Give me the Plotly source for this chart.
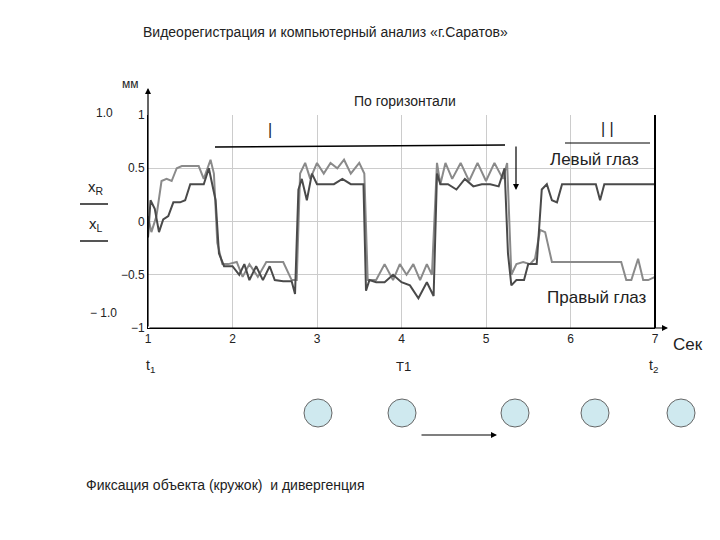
import plotly.graph_objects as go

# left eye (dark) and right eye (light) traces
t_left = [1.0, 1.03, 1.08, 1.13, 1.18, 1.24, 1.3, 1.38, 1.44, 1.5, 1.6, 1.66, 1.72, 1.76, 1.8, 1.84,
          1.9, 2.0, 2.08, 2.14, 2.2, 2.28, 2.36, 2.44, 2.5, 2.6, 2.7, 2.74, 2.78, 2.82, 2.88, 2.94,
          3.0, 3.1, 3.2, 3.3, 3.4, 3.5, 3.55, 3.58, 3.62, 3.7, 3.8, 3.9, 4.0, 4.1, 4.2, 4.3, 4.38,
          4.42, 4.46, 4.55, 4.65, 4.75, 4.85, 4.95, 5.05, 5.15, 5.22, 5.26, 5.3, 5.36, 5.45,
          5.5, 5.6, 5.66, 5.72, 5.78, 5.84, 5.9, 6.0, 6.2, 6.3, 6.35, 6.4, 6.5, 6.7, 7.0]
v_left = [-0.15, 0.2, 0.12, -0.1, 0.02, 0.05, 0.18, 0.18, 0.2, 0.35, 0.35, 0.35, 0.5, 0.35, 0.2, -0.3,
          -0.42, -0.42, -0.5, -0.4, -0.55, -0.42, -0.55, -0.42, -0.55, -0.56, -0.56, -0.68, 0.3, 0.4,
          0.2, 0.45, 0.35, 0.35, 0.35, 0.4, 0.35, 0.35, 0.35, -0.65, -0.55, -0.57, -0.57, -0.5, -0.57,
          -0.6, -0.72, -0.57, -0.7, 0.45, 0.35, 0.35, 0.3, 0.4, 0.33, 0.35, 0.35, 0.33, 0.5, -0.3,
          -0.6, -0.55, -0.55, -0.4, -0.4, 0.3, 0.35, 0.2, 0.18, 0.35, 0.35, 0.35, 0.35, 0.2, 0.35,
          0.35, 0.35, 0.35]
t_right = [1.0, 1.04, 1.1, 1.16, 1.22, 1.28, 1.34, 1.4, 1.46, 1.52, 1.6, 1.66, 1.7, 1.74, 1.78, 1.82,
           1.88, 1.95, 2.05, 2.12, 2.2, 2.3, 2.4, 2.5, 2.6, 2.7, 2.76, 2.8, 2.86, 2.92, 3.0, 3.08,
           3.16, 3.24, 3.32, 3.4, 3.5, 3.56, 3.6, 3.7, 3.8, 3.9, 3.98, 4.06, 4.14, 4.22, 4.3, 4.36,
           4.42, 4.46, 4.52, 4.6, 4.7, 4.8, 4.9, 5.0, 5.1, 5.2, 5.25, 5.3, 5.36, 5.44, 5.52, 5.58,
           5.64, 5.7, 5.78, 5.86, 6.0, 6.3, 6.6, 6.66, 6.72, 6.8, 6.86, 6.92, 7.0]
v_right = [0.05, -0.1, 0.05, 0.38, 0.4, 0.38, 0.5, 0.52, 0.52, 0.52, 0.52, 0.4, 0.5, 0.58, 0.45,
           -0.2, -0.4, -0.4, -0.38, -0.52, -0.4, -0.52, -0.38, -0.38, -0.38, -0.55, -0.55, 0.45,
           0.55, 0.4, 0.55, 0.45, 0.55, 0.5, 0.58, 0.45, 0.55, 0.45, -0.55, -0.55, -0.4, -0.55,
           -0.4, -0.5, -0.4, -0.55, -0.4, -0.5, 0.55, 0.35, 0.55, 0.4, 0.55, 0.38, 0.55, 0.38,
           0.55, 0.4, 0.55, -0.5, -0.4, -0.38, -0.4, -0.35, -0.08, -0.1, -0.38, -0.38, -0.38,
           -0.38, -0.38, -0.55, -0.55, -0.35, -0.55, -0.55, -0.52]

x_ticks = [1, 2, 3, 4, 5, 6, 7]
y_ticks = [-1, -0.5, 0, 0.5, 1]
y_tick_text = ["\u22121", "\u22120.5", "0", "0.5", "1"]
circle_x = [318, 402, 515, 595, 681]  # pixel centres of the fixation circles

fig = go.Figure()
fig.add_trace(go.Scatter(x=t_right, y=v_right, mode="lines", line=dict(color="#8a8a8a", width=2)))
fig.add_trace(go.Scatter(x=t_left, y=v_left, mode="lines", line=dict(color="#4a4a4a", width=2)))

W, H = 720, 540
OFF = 8  # page body margin
px = lambda x: (x - OFF) / W
py = lambda y: 1 - (y - OFF) / H

fig.update_layout(
    width=W, height=H, margin=dict(l=0, r=0, t=0, b=0, autoexpand=False), showlegend=False,
    plot_bgcolor="white", paper_bgcolor="white",
    font=dict(family="Liberation Sans, Arial", size=13, color="#222"),
    xaxis=dict(domain=[px(148), px(655)], range=[1, 7], tickvals=x_ticks, showgrid=True,
               gridcolor="#cccccc", zeroline=False, showline=True, linecolor="black",
               ticks="", tickfont=dict(size=12), automargin=False),
    yaxis=dict(domain=[py(328), py(115)], range=[-1, 1], tickvals=y_ticks, ticktext=y_tick_text,
               showgrid=True, gridcolor="#cccccc", zeroline=False, showline=True,
               linecolor="black", ticks="", tickfont=dict(size=12), automargin=False),
)

shapes = [
    dict(type="line", xref="paper", yref="paper", x0=px(655), x1=px(655), y0=py(115), y1=py(328),
         line=dict(color="black", width=2)),
    dict(type="line", xref="paper", yref="paper", x0=px(215), x1=px(505), y0=py(147), y1=py(145),
         line=dict(color="black", width=1.5)),
    dict(type="line", xref="paper", yref="paper", x0=px(565), x1=px(650), y0=py(143), y1=py(143),
         line=dict(color="black", width=1)),
    dict(type="line", xref="paper", yref="paper", x0=px(80), x1=px(108), y0=py(204), y1=py(204),
         line=dict(color="#555", width=2)),
    dict(type="line", xref="paper", yref="paper", x0=px(80), x1=px(108), y0=py(241), y1=py(241),
         line=dict(color="#555", width=2)),
]
for cx in circle_x:
    shapes.append(dict(type="circle", xref="paper", yref="paper", x0=px(cx - 14), x1=px(cx + 14),
                       y0=py(427), y1=py(399), fillcolor="#cfe9ef", line=dict(color="#666", width=1)))
fig.update_layout(shapes=shapes)

def txt(x, y, s, size=13, **kw):
    fig.add_annotation(x=px(x), y=py(y), xref="paper", yref="paper", text=s, showarrow=False,
                       xanchor="center", yanchor="middle", font=dict(size=size, color="#222"), **kw)

def arrow(x0, y0, x1, y1):
    fig.add_annotation(x=px(x1), y=py(y1), ax=x0 - x1, ay=y0 - y1, xref="paper", yref="paper",
                       axref="pixel", ayref="pixel", text="", showarrow=True, arrowhead=2,
                       arrowsize=1, arrowwidth=1.2, arrowcolor="black")

arrow(148, 328, 148, 88)
arrow(148, 328, 668, 328)
arrow(516, 145, 516, 190)
arrow(420, 435, 497, 435)

txt(325, 32, "Видеорегистрация и компьютерный анализ «г.Саратов»", 14)
txt(130, 84, "мм", 12)
txt(405, 101, "По горизонтали", 14)
txt(270, 130, "|", 16)
txt(607, 128, "| |", 16)
txt(594, 160, "Левый глаз", 17)
txt(597, 297, "Правый глаз", 17)
txt(104, 113, "1.0", 12)
txt(103, 313, "\u2212 1.0", 12)
txt(96, 188, "x<sub>R</sub>", 15)
txt(96, 224, "x<sub>L</sub>", 15)
txt(688, 344, "Сек", 17)
txt(150, 366, "t<sub>1</sub>", 14)
txt(403, 366, "T1", 13)
txt(653, 366, "t<sub>2</sub>", 14)
txt(225, 485, "Фиксация объекта (кружок)  и дивергенция", 14)

fig.write_html("out.html")
